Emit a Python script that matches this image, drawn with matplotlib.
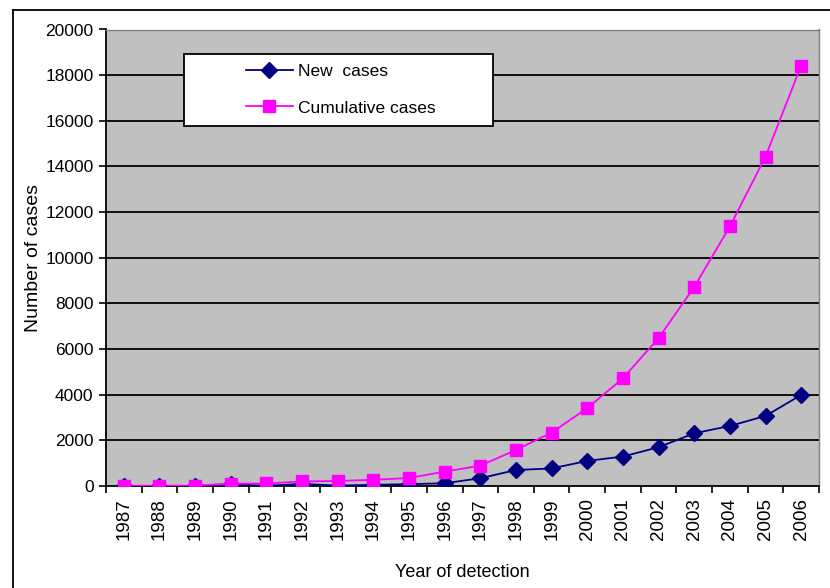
import matplotlib.pyplot as plt
import numpy as np
from matplotlib.lines import Line2D
from matplotlib.patches import Rectangle

plt.rcParams["font.family"] = ["Liberation Sans", "DejaVu Sans"]

years = [str(y) for y in range(1987, 2007)]
new_cases = [5, 3, 5, 85, 10, 90, 20, 50, 80, 120, 340, 700, 770, 1100, 1290, 1700, 2310, 2630, 3070, 3990]
cumulative = [10, 13, 18, 100, 110, 200, 220, 270, 350, 630, 890, 1580, 2340, 3410, 4720, 6480, 8720, 11370, 14430, 18420]
y_ticks = list(range(0, 20001, 2000))

fig = plt.figure(figsize=(8.3, 5.88), dpi=100)
ax = fig.add_axes([106 / 830, 102 / 588, 713 / 830, 456.5 / 588])
ax.set_facecolor("#C0C0C0")

x = np.arange(len(years))
for yv in y_ticks[1:]:
    ax.axhline(yv, color="black", lw=1.3, zorder=1)

ax.plot(x, new_cases, color="#000080", marker="D", markersize=8, lw=1.3,
        label="New  cases", zorder=3)
ax.plot(x, cumulative, color="#FF00FF", marker="s", markersize=9, lw=1.3,
        label="Cumulative cases", zorder=3)

ax.set_xlim(-0.5, len(years) - 0.5)
ax.set_ylim(0, 20000)
ax.set_yticks(y_ticks)
ax.set_yticklabels([str(v) for v in y_ticks], fontsize=12.5)
ax.set_xticks(x)
ax.set_xticklabels(years, rotation=90, fontsize=13.5)
ax.set_xticks(np.arange(len(years) + 1) - 0.5, minor=True)
ax.tick_params(axis="x", which="major", length=0, pad=9)
ax.tick_params(axis="x", which="minor", length=5, width=1.2, color="black")
ax.tick_params(axis="y", length=5, width=1.2, color="black", pad=4)

for side in ["left", "bottom"]:
    ax.spines[side].set_color("black")
    ax.spines[side].set_linewidth(1.3)
for side in ["top", "right"]:
    ax.spines[side].set_color("#808080")
    ax.spines[side].set_linewidth(1.0)

ax.set_ylabel("Number of cases", fontsize=14, labelpad=2)
ax.set_xlabel("Year of detection", fontsize=13, labelpad=17)

# legend box
ax.add_patch(Rectangle(((184 - 106) / 713, (486 - 126) / 456), 309 / 713, 72 / 456,
                       transform=ax.transAxes, facecolor="white", edgecolor="black",
                       lw=1.3, zorder=4))
leg = ax.legend(loc="upper left", bbox_to_anchor=((246 - 106) / 713, (486 - 64) / 456),
                frameon=False, borderpad=0, borderaxespad=0, handlelength=2.7,
                handletextpad=0.3, labelspacing=1.25, fontsize=12.5)
leg.set_zorder(5)

# outer chart frame
fig.add_artist(Line2D([13 / 830, 13 / 830], [0, 578 / 588], color="black", lw=1.3))
fig.add_artist(Line2D([13 / 830, 1], [578 / 588, 578 / 588], color="black", lw=1.3))

fig.savefig("out.png", dpi=100)
